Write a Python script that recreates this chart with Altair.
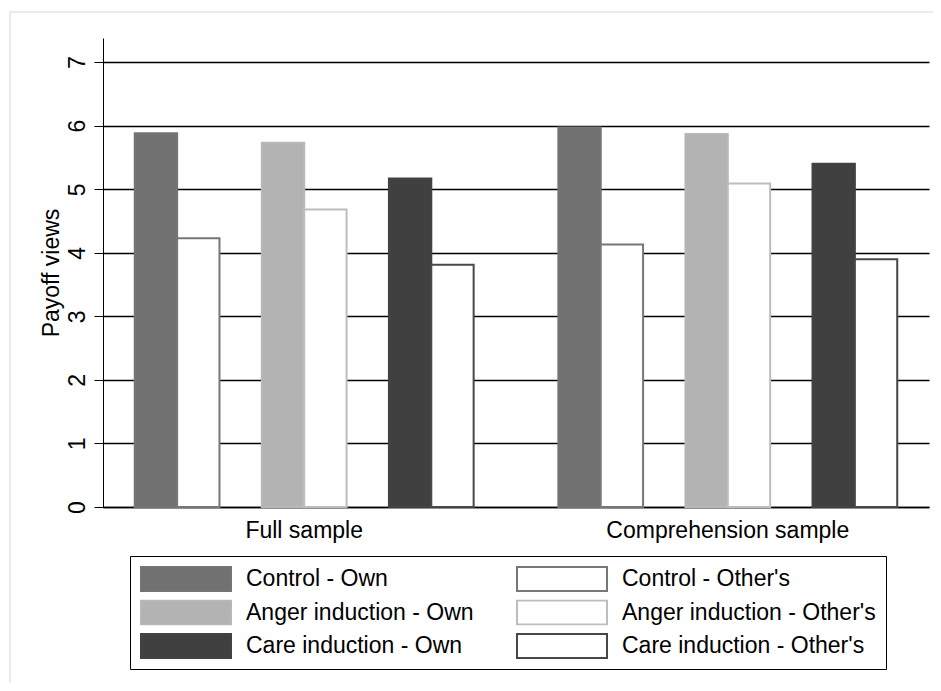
import altair as alt
import pandas as pd

samples = ["Full sample", "Comprehension sample"]
# legend order (column-major: own series in the left column, other's in the right)
series = [
    "Control - Own", "Anger induction - Own", "Care induction - Own",
    "Control - Other's", "Anger induction - Other's", "Care induction - Other's",
]
full_values = [5.88, 5.73, 5.17, 4.23, 4.68, 3.81]
comp_values = [5.97, 5.87, 5.40, 4.13, 5.09, 3.90]
fill_colors = ["#717171", "#b3b3b3", "#404040", "#ffffff", "#ffffff", "#ffffff"]
stroke_colors = ["#747474", "#b8b8b8", "#424242", "#777777", "#bdbdbd", "#474747"]
y_ticks = [0, 1, 2, 3, 4, 5, 6, 7]

# slots within each sample group (spacers leave the gaps between treatment pairs)
slots = [
    "Control - Own", "Control - Other's", "spacer 1",
    "Anger induction - Own", "Anger induction - Other's", "spacer 2",
    "Care induction - Own", "Care induction - Other's",
]

rows = []
for s, vals in zip(samples, [full_values, comp_values]):
    for name, v in zip(series, vals):
        rows.append({"sample": s, "series": name, "value": v})
df = pd.DataFrame(rows)

FONT = "Liberation Sans"

legend = alt.Legend(
    title=None, orient="none", legendX=27, legendY=518, columns=2,
    symbolType="M-1,-0.2667H1V0.2667H-1Z", symbolSize=8100, symbolStrokeWidth=2,
    symbolOpacity=1, clipHeight=26, rowPadding=7.5, columnPadding=42,
    labelFontSize=23, labelFont=FONT, labelColor="black", labelOffset=14, labelLimit=400,
    padding=10, strokeColor="black", fillColor="white", cornerRadius=0,
)

bars = alt.Chart(df).mark_bar(strokeWidth=2, opacity=1).encode(
    x=alt.X("sample:N", sort=samples,
            scale=alt.Scale(paddingInner=0.2, paddingOuter=0.075),
            axis=alt.Axis(title=None, labelAngle=0, ticks=False, domain=True,
                          domainColor="black", domainWidth=1.5, labelFontSize=23,
                          labelFont=FONT, labelColor="black", labelPadding=12,
                          labelLimit=500)),
    xOffset=alt.XOffset("series:N", scale=alt.Scale(domain=slots, paddingInner=0, paddingOuter=0)),
    y=alt.Y("value:Q", scale=alt.Scale(domain=[0, 7.38], nice=False, zero=True),
            axis=alt.Axis(title="Payoff views", values=y_ticks, tickSize=9, tickColor="black",
                          tickWidth=1, labelAngle=270, labelAlign="center",
                          labelBaseline="alphabetic", labelPadding=10, labelFontSize=23,
                          labelFont=FONT, labelColor="black", titleFontSize=23,
                          titleFont=FONT, titleFontWeight="normal", titleColor="black",
                          titlePadding=3, grid=True, gridColor="black", gridWidth=1.5,
                          domainColor="black", domainWidth=1)),
    fill=alt.Fill("series:N", scale=alt.Scale(domain=series, range=fill_colors), legend=legend),
    stroke=alt.Stroke("series:N", scale=alt.Scale(domain=series, range=stroke_colors), legend=legend),
)

frame = alt.Chart(pd.DataFrame({"k": [0]})).mark_rect(
    fillOpacity=0, stroke="#e4edf1", strokeWidth=2
).encode(
    x=alt.value(-93), y=alt.value(-26), x2=alt.value(1100), y2=alt.value(900)
)

chart = alt.layer(frame, bars).properties(
    width=826, height=469,
    padding={"left": 95, "top": 30, "right": 4, "bottom": 176},
    autosize="none",
).configure_view(stroke=None)

chart.save("out.html", embed_options={"renderer": "svg", "actions": False})
